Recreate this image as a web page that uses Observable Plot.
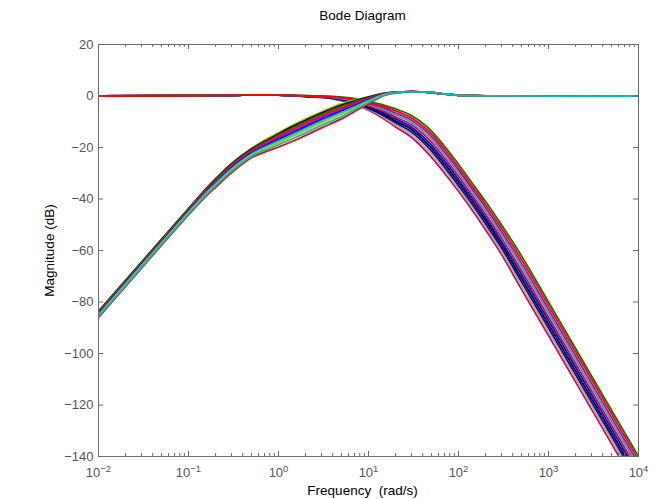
<!DOCTYPE html>
<html><head><meta charset="utf-8">
<script src="https://cdn.jsdelivr.net/npm/d3@7"></script>
<script src="https://cdn.jsdelivr.net/npm/@observablehq/plot@0.6"></script>
<style>body{margin:0;background:#fff;}</style>
</head><body><div id="chart"></div>
<script>
// ---- data ----
const freqLP = [0.01, 0.3, 0.5, 1, 2, 4, 7, 10, 15, 20, 30, 45, 70, 100, 150, 200, 300, 500, 1000, 10000];
const lp0 = [0, 0.25, 0.4, 0.35, 0.1, -0.2, -1.0, -2.2, -3.6, -5.0, -7.6, -12.0, -19.5, -26.5, -35.0, -41.0, -50.0, -62.0, -80.0, -140.0];
const lp1 = [0, 0.25, 0.4, 0.35, 0.1, -0.3, -1.3, -2.6, -4.2, -5.8, -8.5, -13.1, -20.6, -27.7, -36.2, -42.2, -51.3, -63.4, -81.4, -141.4];
const lp2 = [0, 0.25, 0.4, 0.35, 0.0, -0.4, -1.5, -2.9, -4.8, -6.6, -9.4, -14.1, -21.7, -28.8, -37.3, -43.4, -52.6, -64.9, -82.9, -142.9];
const lp3 = [0, 0.25, 0.4, 0.35, 0.0, -0.5, -1.8, -3.3, -5.4, -7.3, -10.3, -15.2, -22.8, -30.0, -38.5, -44.7, -53.8, -66.3, -84.3, -144.3];
const lp4 = [0, 0.25, 0.4, 0.35, 0.0, -0.6, -2.0, -3.7, -6.0, -8.1, -11.2, -16.3, -24.0, -31.2, -39.7, -45.9, -55.1, -67.8, -85.8, -145.8];
const lp5 = [0, 0.25, 0.45, 0.35, -0.1, -0.7, -2.3, -4.0, -6.6, -8.9, -12.1, -17.4, -25.2, -32.4, -40.8, -47.1, -56.4, -69.2, -87.2, -147.2];
const lp6 = [0, 0.25, 0.45, 0.35, -0.1, -0.8, -2.5, -4.4, -7.2, -9.7, -13.0, -18.5, -26.4, -33.6, -42.0, -48.3, -57.7, -70.7, -88.7, -148.7];
const lp7 = [0, 0.25, 0.45, 0.35, -0.1, -0.9, -2.8, -4.8, -7.8, -10.4, -14.0, -19.6, -27.6, -34.8, -43.2, -49.6, -58.9, -72.1, -90.1, -150.1];
const lp8 = [0, 0.25, 0.45, 0.35, -0.2, -1.0, -3.0, -5.1, -8.4, -11.2, -15.0, -20.8, -28.8, -35.9, -44.3, -50.8, -60.2, -73.6, -91.6, -151.6];
const lp9 = [0, 0.25, 0.45, 0.35, -0.2, -1.1, -3.3, -5.5, -9.0, -12.0, -16.0, -22.0, -30.0, -37.0, -45.5, -52.0, -61.5, -75.0, -93.0, -153.0];

const freqHP = [0.01, 0.1, 0.16, 0.2, 0.3, 0.5, 0.7, 1, 1.5, 2, 3, 5, 7, 10, 15, 20, 30, 50, 70, 100, 200, 10000];
const hp0 = [-83.5, -43.6, -35.6, -32.0, -26.2, -20.3, -17.2, -14.2, -11.0, -8.9, -6.1, -3.0, -1.6, -0.2, 1.1, 1.5, 1.7, 1.3, 0.7, 0.3, 0.05, 0];
const hp1 = [-83.7, -43.8, -35.8, -32.3, -26.4, -20.6, -17.6, -14.7, -11.5, -9.4, -6.6, -3.5, -2.0, -0.4, 1.0, 1.5, 1.7, 1.3, 0.7, 0.3, 0.05, 0];
const hp2 = [-83.9, -44.0, -36.0, -32.6, -26.7, -21.0, -18.0, -15.2, -12.1, -10.0, -7.2, -4.0, -2.4, -0.7, 0.9, 1.4, 1.7, 1.3, 0.7, 0.3, 0.05, 0];
const hp3 = [-84.2, -44.3, -36.3, -33.0, -27.1, -21.3, -18.5, -15.7, -12.7, -10.6, -7.8, -4.6, -2.8, -1.0, 0.9, 1.4, 1.7, 1.3, 0.7, 0.3, 0.05, 0];
const hp4 = [-84.4, -44.6, -36.7, -33.3, -27.5, -21.7, -19.0, -16.3, -13.3, -11.3, -8.4, -5.2, -3.2, -1.2, 0.8, 1.4, 1.7, 1.3, 0.7, 0.3, 0.05, 0];
const hp5 = [-84.7, -44.8, -37.0, -33.7, -27.9, -22.1, -19.4, -16.8, -14.0, -11.9, -9.1, -5.8, -3.7, -1.5, 0.7, 1.4, 1.7, 1.3, 0.8, 0.3, 0.05, 0];
const hp6 = [-85.0, -45.1, -37.3, -34.0, -28.3, -22.5, -19.9, -17.5, -14.7, -12.6, -9.8, -6.4, -4.2, -1.8, 0.6, 1.3, 1.6, 1.4, 0.8, 0.3, 0.05, 0];
const hp7 = [-85.3, -45.4, -37.7, -34.5, -28.7, -23.0, -20.5, -18.1, -15.4, -13.4, -10.5, -7.1, -4.7, -2.2, 0.5, 1.3, 1.6, 1.4, 0.8, 0.3, 0.05, 0];
const hp8 = [-85.6, -45.8, -38.1, -34.9, -29.2, -23.5, -21.1, -18.9, -16.3, -14.3, -11.4, -8.0, -5.3, -2.6, 0.3, 1.2, 1.6, 1.4, 0.8, 0.3, 0.05, 0];
const hp9 = [-86.0, -46.2, -38.6, -35.5, -29.8, -24.0, -21.8, -19.8, -17.3, -15.3, -12.4, -8.9, -6.0, -3.0, 0.2, 1.2, 1.6, 1.4, 0.8, 0.3, 0.05, 0];

const xTicks = [0.01, 0.1, 1, 10, 100, 1000, 10000];
const yTicks = [-140, -120, -100, -80, -60, -40, -20, 0, 20];
const title = "Bode Diagram";
const xLabel = "Frequency\u00a0 (rad/s)";
const yLabel = "Magnitude (dB)";

// ---- styles ----
const lpCurves = [lp0, lp1, lp2, lp3, lp4, lp5, lp6, lp7, lp8, lp9];
const hpCurves = [hp0, hp1, hp2, hp3, hp4, hp5, hp6, hp7, hp8, hp9];
const lpColors = ["#008000","#ff0000","#bf00bf","#00bfbf","#ff0000","#0000ff","#000000","#0000ff","#bfbf00","#bf00bf"];
const hpColors = ["#bfbf00","#000000","#008000","#ff0000","#bf00bf","#0000ff","#00bfbf","#bfbf00","#00bfbf","#ff0000"];
const lpOrder = [9,8,7,6,5,4,3,2,0,1];
const hpOrder = [0,1,2,3,4,5,6,7,9,8];

const W = 656, H = 499, mt = 44, mb = 43, ml = 98, mr = 18;
const iw = W - ml - mr, ih = H - mt - mb;
const font = "'Liberation Sans', Arial, Helvetica, sans-serif";
const axisGray = "#6b6b6b";
const labelGray = "#555555";

const xMinor = [];
for (let e = -2; e < 4; e++) for (let m = 2; m <= 9; m++) xMinor.push(m * Math.pow(10, e));

const lineMarks = [];
lpOrder.forEach(i => lineMarks.push(Plot.line(freqLP.map((w, j) => ({w, db: lpCurves[i][j]})),
  {x: "w", y: "db", stroke: lpColors[i], strokeWidth: 1.8, curve: "catmull-rom", clip: true})));
hpOrder.forEach(i => lineMarks.push(Plot.line(freqHP.map((w, j) => ({w, db: hpCurves[i][j]})),
  {x: "w", y: "db", stroke: hpColors[i], strokeWidth: 1.8, curve: "catmull-rom", clip: true})));

const chart = Plot.plot({
  width: W, height: H,
  marginTop: mt, marginBottom: mb, marginLeft: ml, marginRight: mr,
  style: {fontFamily: font, fontSize: "13px", background: "#fff", overflow: "visible"},
  x: {type: "log", domain: [0.01, 10000]},
  y: {domain: [-140, 20]},
  marks: [
    ...lineMarks,
    Plot.frame({stroke: axisGray}),
    Plot.tickX(xTicks, {x: d => d, insetTop: ih - 5, stroke: axisGray}),
    Plot.tickX(xTicks, {x: d => d, insetBottom: ih - 5, stroke: axisGray}),
    Plot.tickX(xMinor, {x: d => d, insetTop: ih - 3, stroke: axisGray}),
    Plot.tickX(xMinor, {x: d => d, insetBottom: ih - 3, stroke: axisGray}),
    Plot.tickY(yTicks, {y: d => d, insetRight: iw - 5, stroke: axisGray}),
    Plot.tickY(yTicks, {y: d => d, insetLeft: iw - 5, stroke: axisGray}),
    Plot.axisX(xTicks, {tickSize: 0, tickPadding: 11, label: null, fill: labelGray,
      tickFormat: d => String(Math.round(Math.log10(d))).replace("-", "\u2212")}),
    Plot.axisY(yTicks, {tickSize: 0, tickPadding: 5, label: null, fill: labelGray}),
    Plot.text([title], {frameAnchor: "top", lineAnchor: "middle", textAnchor: "middle", dx: -6, dy: -29, fontSize: 13.5, fill: "#000"}),
    Plot.text([xLabel], {frameAnchor: "bottom", lineAnchor: "middle", textAnchor: "middle", dx: -6, dy: 34, fontSize: 13.5, fill: "#000"}),
    Plot.text([yLabel], {frameAnchor: "left", lineAnchor: "middle", textAnchor: "middle", dx: -49, rotate: -90, fontSize: 13.5, fill: "#000"})
  ]
});

// superscript exponents on the x tick labels
chart.querySelectorAll('[aria-label="x-axis tick label"] text').forEach(t => {
  const e = t.textContent;
  t.textContent = "";
  t.append("10");
  const ts = document.createElementNS("http://www.w3.org/2000/svg", "tspan");
  ts.setAttribute("dy", "-0.5em");
  ts.setAttribute("font-size", "9.5");
  ts.textContent = e;
  t.appendChild(ts);
});

document.getElementById("chart").appendChild(chart);
</script>
</body></html>
